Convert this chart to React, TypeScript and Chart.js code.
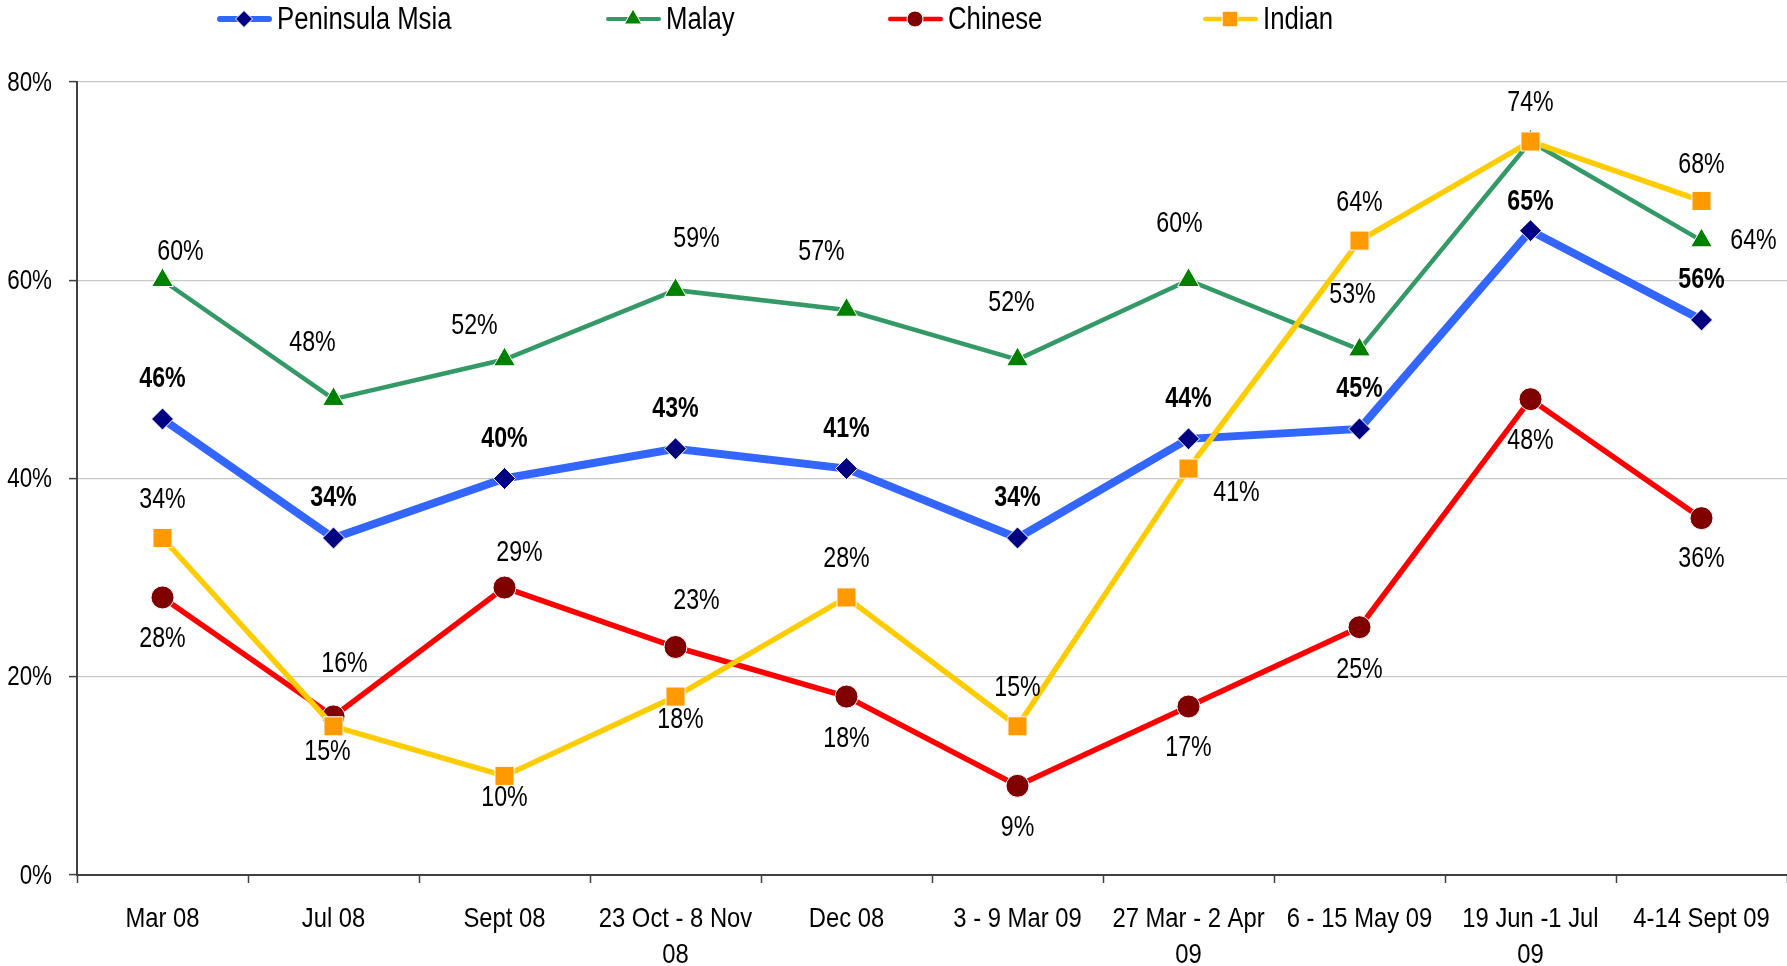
import React, { useEffect, useRef } from "react";
import { Chart, registerables } from "chart.js";

Chart.register(...registerables);

const categories: string[][] = [
  ["Mar 08"],
  ["Jul 08"],
  ["Sept 08"],
  ["23 Oct - 8 Nov", "08"],
  ["Dec 08"],
  ["3 - 9 Mar 09"],
  ["27 Mar - 2 Apr", "09"],
  ["6 - 15 May 09"],
  ["19 Jun -1 Jul", "09"],
  ["4-14 Sept 09"],
];

const seriesNames = ["Peninsula Msia", "Malay", "Chinese", "Indian"];
const peninsula = [46, 34, 40, 43, 41, 34, 44, 45, 65, 56];
const malay = [60, 48, 52, 59, 57, 52, 60, 53, 74, 64];
const chinese = [28, 16, 29, 23, 18, 9, 17, 25, 48, 36];
const indian = [34, 15, 10, 18, 28, 15, 41, 64, 74, 68];
const yTickValues = [0, 20, 40, 60, 80];
const yTickLabels = ["0%", "20%", "40%", "60%", "80%"];

// label offsets (dx, dy) relative to each point, null = no label
const peninsulaLabelOffsets: ([number, number] | null)[] = [
  [0, -40], [0, -40], [0, -40], [0, -40], [0, -40], [0, -40], [0, -40], [0, -40], [0, -29], [0, -40],
];
const malayLabelOffsets: ([number, number] | null)[] = [
  [18, -28], [-21, -56], [-30, -34], [21, -51], [-25, -58], [-6, -57], [-9, -56], [-7, -55], null, [52, 0],
];
const chineseLabelOffsets: ([number, number] | null)[] = [
  [0, 42], [11, -52], [15, -35], [21, -46], [0, 42], [0, 42], [0, 42], [0, 43], [0, 42], [0, 41],
];
const indianLabelOffsets: ([number, number] | null)[] = [
  [0, -38], [-6, 26], [0, 22], [5, 23], [0, -38], [0, -38], [48, 24], [0, -38], [0, -38], [0, -36],
];

const FONT = '"Liberation Sans", Arial, sans-serif';

const lineColors = ["#3366FF", "#339966", "#FF0000", "#FFCC00"];
const markerColors = ["#000080", "#008000", "#800000", "#FF9900"];
const markerStyles = ["rectRot", "triangle", "circle", "rect"];
const markerRadius = [11, 12.5, 11.5, 13.5];
const lineWidths = [8, 4.5, 5.5, 5.5];
const legendMarkerRadius = [8.5, 10, 8, 11];
const legendLineWidths = [6, 4, 4.5, 4.5];
const legendX = [217, 606, 888, 1203];
const boldLabels = [true, false, false, false];

function fillNarrow(
  ctx: CanvasRenderingContext2D,
  text: string,
  x: number,
  y: number,
  align: CanvasTextAlign,
  sx: number
) {
  ctx.save();
  ctx.translate(x, y);
  ctx.scale(sx, 1);
  ctx.textAlign = align;
  ctx.textBaseline = "middle";
  ctx.fillText(text, 0, 0);
  ctx.restore();
}

function drawMarker(ctx: CanvasRenderingContext2D, style: string, x: number, y: number, r: number, fill: string) {
  ctx.save();
  ctx.fillStyle = fill;
  ctx.strokeStyle = "#FFFFFF";
  ctx.lineWidth = 1;
  ctx.beginPath();
  if (style === "rectRot") {
    ctx.moveTo(x, y - r);
    ctx.lineTo(x + r, y);
    ctx.lineTo(x, y + r);
    ctx.lineTo(x - r, y);
    ctx.closePath();
  } else if (style === "triangle") {
    const a = (Math.PI * 2) / 3;
    ctx.moveTo(x, y - r);
    ctx.lineTo(x + Math.sin(a) * r, y - Math.cos(a) * r);
    ctx.lineTo(x + Math.sin(2 * a) * r, y - Math.cos(2 * a) * r);
    ctx.closePath();
  } else if (style === "circle") {
    ctx.arc(x, y, r, 0, Math.PI * 2);
  } else {
    const s = Math.SQRT1_2 * r;
    ctx.rect(x - s, y - s, 2 * s, 2 * s);
  }
  ctx.fill();
  ctx.stroke();
  ctx.restore();
}

const legendPlugin = {
  id: "customLegend",
  afterDraw(chart: any) {
    const ctx: CanvasRenderingContext2D = chart.ctx;
    ctx.save();
    ctx.font = `31px ${FONT}`;
    ctx.fillStyle = "#000000";
    const y = 19;
    seriesNames.forEach((name, i) => {
      const x = legendX[i];
      ctx.save();
      ctx.strokeStyle = lineColors[i];
      ctx.lineWidth = legendLineWidths[i];
      ctx.lineCap = "round";
      ctx.beginPath();
      ctx.moveTo(x + legendLineWidths[i] / 2, y);
      ctx.lineTo(x + 55 - legendLineWidths[i] / 2, y);
      ctx.stroke();
      ctx.restore();
      drawMarker(ctx, markerStyles[i], x + 27, y, legendMarkerRadius[i], markerColors[i]);
      fillNarrow(ctx, name, x + 60, y + 1, "left", 0.83);
    });
    ctx.restore();
  },
};

const axisLabelPlugin = {
  id: "narrowAxisLabels",
  afterDraw(chart: any) {
    const ctx: CanvasRenderingContext2D = chart.ctx;
    const xs = chart.scales.x;
    const ys = chart.scales.y;
    ctx.save();
    ctx.fillStyle = "#000000";
    ctx.font = `28px ${FONT}`;
    yTickValues.forEach((v, i) => {
      fillNarrow(ctx, yTickLabels[i], ys.right - 25, ys.getPixelForValue(v) + 1, "right", 0.8);
    });
    categories.forEach((lines, i) => {
      const x = xs.getPixelForTick(i);
      lines.forEach((t, k) => {
        fillNarrow(ctx, t, x, xs.top + 44 + k * 36, "center", 0.85);
      });
    });
    ctx.restore();
  },
};

const labelPlugin = {
  id: "pointValueLabels",
  afterDatasetsDraw(chart: any) {
    const ctx: CanvasRenderingContext2D = chart.ctx;
    const offsets = [peninsulaLabelOffsets, malayLabelOffsets, chineseLabelOffsets, indianLabelOffsets];
    ctx.save();
    ctx.fillStyle = "#000000";
    chart.data.datasets.forEach((ds: any, i: number) => {
      const meta = chart.getDatasetMeta(i);
      ctx.font = `${boldLabels[i] ? "bold " : ""}29px ${FONT}`;
      meta.data.forEach((pt: any, j: number) => {
        const o = offsets[i][j];
        if (!o) return;
        fillNarrow(ctx, `${ds.data[j]}%`, pt.x + o[0], pt.y + o[1], "center", 0.8);
      });
    });
    ctx.restore();
  },
};

export default function App() {
  const canvasRef = useRef<HTMLCanvasElement | null>(null);

  useEffect(() => {
    if (!canvasRef.current) return;
    const seriesData = [peninsula, malay, chinese, indian];
    const drawOrder = [4, 3, 2, 1];
    const chart = new Chart(canvasRef.current, {
      type: "line",
      data: {
        labels: categories,
        datasets: seriesNames.map((name, i) => ({
          label: name,
          data: seriesData[i],
          borderColor: lineColors[i],
          backgroundColor: markerColors[i],
          borderWidth: lineWidths[i],
          pointStyle: markerStyles[i] as any,
          pointRadius: markerRadius[i],
          pointBackgroundColor: markerColors[i],
          pointBorderColor: "#FFFFFF",
          pointBorderWidth: 1,
          tension: 0,
          fill: false,
          clip: false as any,
          order: drawOrder[i],
        })),
      },
      options: {
        animation: false,
        responsive: true,
        maintainAspectRatio: false,
        layout: { autoPadding: false, padding: { top: 82, left: 0, right: 0, bottom: 0 } },
        plugins: {
          legend: { display: false },
          tooltip: { enabled: false },
          title: { display: false },
        },
        scales: {
          x: {
            type: "category",
            offset: true,
            grid: {
              display: true,
              drawOnChartArea: false,
              drawTicks: true,
              tickLength: 8,
              offset: true,
              tickColor: "#404040",
              tickWidth: 1.5,
            },
            border: { display: true, color: "#404040", width: 2 },
            ticks: { display: false, autoSkip: false, maxRotation: 0, minRotation: 0 },
            afterFit(scale: any) {
              scale.height = 91;
            },
          },
          y: {
            type: "linear",
            min: 0,
            max: 80,
            afterBuildTicks(scale: any) {
              scale.ticks = yTickValues.map((v) => ({ value: v }));
            },
            grid: {
              color: "#C8C8C8",
              lineWidth: 1.2,
              drawTicks: true,
              tickLength: 8,
              tickColor: "#404040",
              tickWidth: 1.5,
            },
            border: { display: true, color: "#404040", width: 2 },
            ticks: { display: false },
            afterFit(scale: any) {
              scale.width = 77;
            },
          },
        },
      },
      plugins: [labelPlugin, legendPlugin, axisLabelPlugin],
    });
    return () => chart.destroy();
  }, []);

  return (
    <div style={{ position: "fixed", left: 0, top: 0, width: 1787, height: 966, background: "#FFFFFF" }}>
      <canvas ref={canvasRef} />
    </div>
  );
}
